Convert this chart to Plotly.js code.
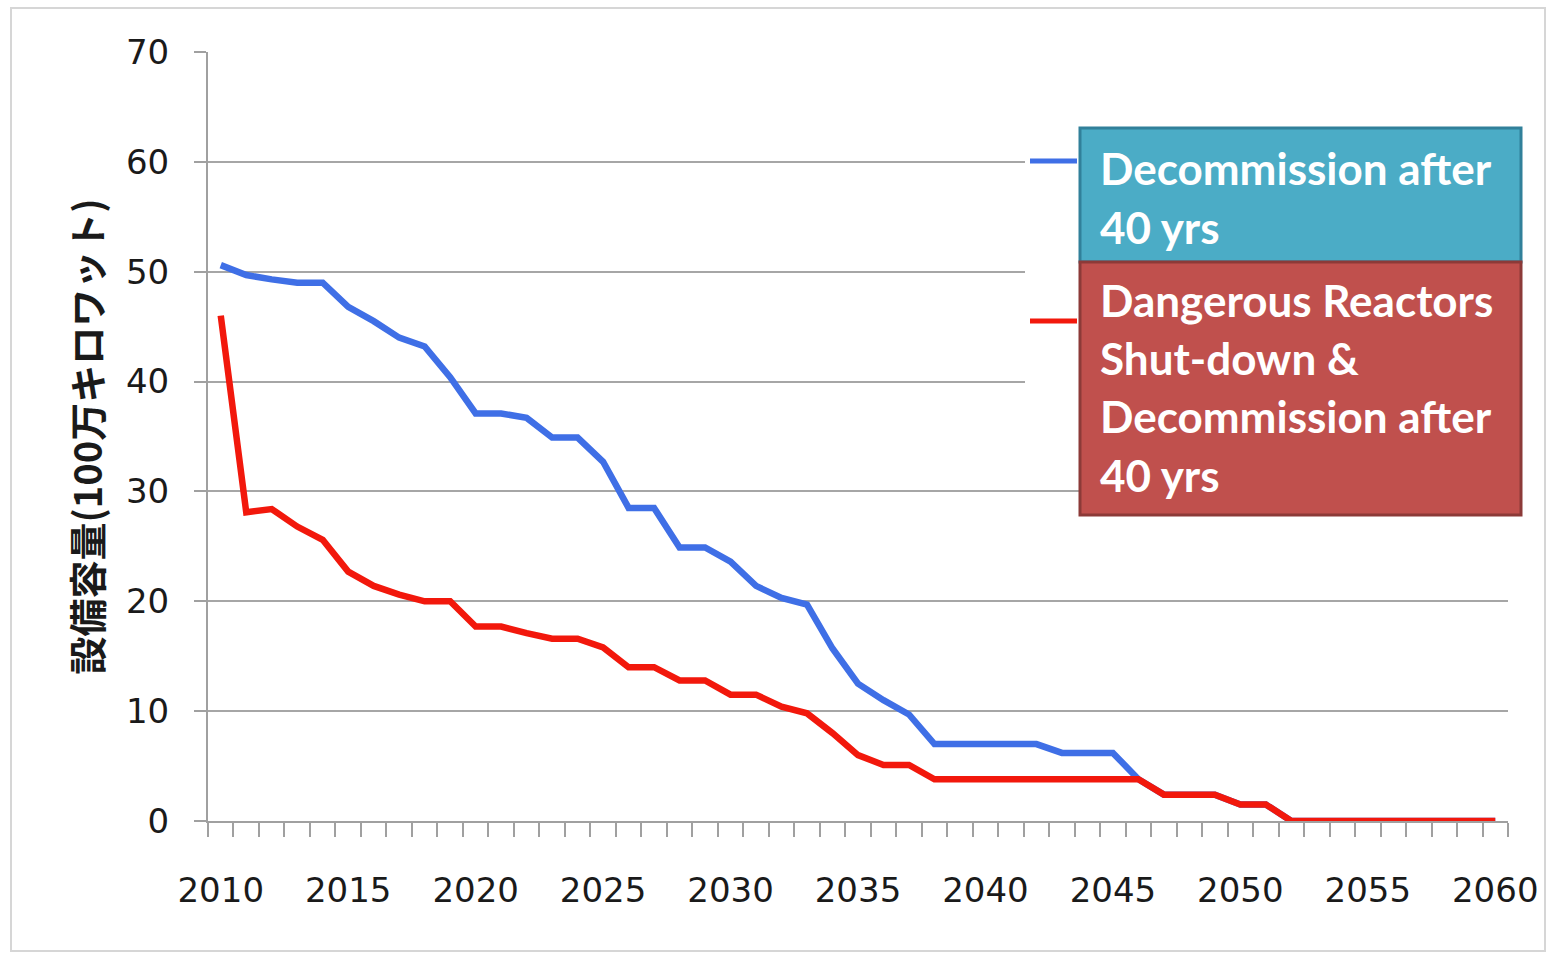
<!DOCTYPE html>
<html>
<head>
<meta charset="utf-8">
<script src="https://cdn.plot.ly/plotly-3.0.1.min.js"></script>
<style>html,body{margin:0;padding:0;background:#fff;}#chart{width:1547px;height:954px;}</style>
</head>
<body>
<div id="chart"></div>
<script>
const years = [2010,2011,2012,2013,2014,2015,2016,2017,2018,2019,
               2020,2021,2022,2023,2024,2025,2026,2027,2028,2029,
               2030,2031,2032,2033,2034,2035,2036,2037,2038,2039,
               2040,2041,2042,2043,2044,2045,2046,2047,2048,2049,
               2050,2051,2052,2053,2054,2055,2056,2057,2058,2059,2060];

const decommission40 = [50.6,49.7,49.3,49.0,49.0,46.8,45.5,44.0,43.2,40.4,
                        37.1,37.1,36.7,34.9,34.9,32.7,28.5,28.5,24.9,24.9,
                        23.6,21.4,20.3,19.7,15.7,12.5,11.0,9.7,7.0,7.0,
                        7.0,7.0,7.0,6.2,6.2,6.2,3.8,2.4,2.4,2.4,
                        1.5,1.5,0,0,0,0,0,0,0,0,0];

const dangerousShutdown = [46.0,28.1,28.4,26.8,25.6,22.7,21.4,20.6,20.0,20.0,
                           17.7,17.7,17.1,16.6,16.6,15.8,14.0,14.0,12.8,12.8,
                           11.5,11.5,10.4,9.8,8.0,6.0,5.1,5.1,3.8,3.8,
                           3.8,3.8,3.8,3.8,3.8,3.8,3.8,2.4,2.4,2.4,
                           1.5,1.5,0,0,0,0,0,0,0,0,0];

const xTickLabels = ['2010','2015','2020','2025','2030','2035','2040','2045','2050','2055','2060'];
const xTickVals = [2010,2015,2020,2025,2030,2035,2040,2045,2050,2055,2060];
const yTitle = '設備容量(100万キロワット)';
const legendBlue = ['Decommission after', '40 yrs'];
const legendRed = ['Dangerous Reactors', 'Shut-down &', 'Decommission after', '40 yrs'];

const blueColor = '#3F6FE6';
const redColor = '#F2180C';

const traces = [
  {x: years, y: decommission40, type: 'scatter', mode: 'lines',
   line: {color: blueColor, width: 6.5}, name: 'Decommission after 40 yrs'},
  {x: years, y: dangerousShutdown, type: 'scatter', mode: 'lines',
   line: {color: redColor, width: 6.5}, name: 'Dangerous Reactors Shut-down & Decommission after 40 yrs'}
];

// plot area: x 208..1508, y 52..821
const L = 208, R = 1508, T = 52, B = 821;
const px = v => (v - L) / (R - L);
const py = v => (B - v) / (B - T);

const shapes = [
  {type:'rect', xref:'paper', yref:'paper', x0:px(11), x1:px(1545), y0:py(951), y1:py(8),
   line:{color:'#d6d6d6', width:2}, fillcolor:'rgba(0,0,0,0)', layer:'below'},
  {type:'rect', xref:'paper', yref:'paper', x0:px(1025), x1:px(1080), y0:py(478), y1:py(150),
   line:{width:0}, fillcolor:'#ffffff'},
  {type:'line', xref:'paper', yref:'paper', x0:px(1030), x1:px(1077), y0:py(161), y1:py(161),
   line:{color:blueColor, width:5}},
  {type:'line', xref:'paper', yref:'paper', x0:px(1030), x1:px(1077), y0:py(321), y1:py(321),
   line:{color:redColor, width:5}},
  {type:'rect', xref:'paper', yref:'paper', x0:px(1080), x1:px(1521), y0:py(262), y1:py(128),
   line:{color:'#31809A', width:3}, fillcolor:'#4BACC6'},
  {type:'rect', xref:'paper', yref:'paper', x0:px(1080), x1:px(1521), y0:py(515), y1:py(262),
   line:{color:'#8C3A38', width:3}, fillcolor:'#C0504D'}
];

const legendFont = {family:'Lato, "Open Sans", sans-serif', size:44, color:'#ffffff'};
const annotations = [];
const blueY = [168, 227];
legendBlue.forEach((t,i) => annotations.push({xref:'paper', yref:'paper', x:px(1098), y:py(blueY[i]),
  xanchor:'left', yanchor:'middle', text:'<b>'+t+'</b>', showarrow:false, font:legendFont}));
const redY = [300, 358, 416, 475];
legendRed.forEach((t,i) => annotations.push({xref:'paper', yref:'paper', x:px(1098), y:py(redY[i]),
  xanchor:'left', yanchor:'middle', text:'<b>'+t+'</b>', showarrow:false, font:legendFont}));

const layout = {
  width: 1547, height: 954,
  margin: {l: L, r: 1547 - R, t: T, b: 954 - B},
  paper_bgcolor: '#ffffff', plot_bgcolor: '#ffffff',
  showlegend: false,
  font: {family: '"DejaVu Sans", sans-serif', size: 34, color: '#1a1a1a'},
  xaxis: {
    range: [2009.5, 2060.5], tickmode: 'array', tickvals: xTickVals, ticktext: xTickLabels,
    ticks: '', showgrid: false, zeroline: false,
    showline: true, linecolor: '#a0a0a0', linewidth: 2,
    ticklabelstandoff: 38,
    minor: {tick0: 2009.5, dtick: 1, ticks: 'outside', ticklen: 14, tickwidth: 2, tickcolor: '#a0a0a0', showgrid: false},
    fixedrange: true
  },
  yaxis: {
    range: [0, 70], dtick: 10, tick0: 0,
    ticks: 'outside', ticklen: 12, tickwidth: 2, tickcolor: '#a0a0a0',
    showgrid: true, gridcolor: '#a6a6a6', gridwidth: 2,
    zeroline: false, showline: true, linecolor: '#a0a0a0', linewidth: 2,
    ticklabelstandoff: 18,
    title: {text: '<b>' + yTitle + '</b>', standoff: 12,
            font: {family: '"Noto Sans CJK JP", sans-serif', size: 38, color: '#1a1a1a'}},
    fixedrange: true
  },
  shapes: shapes,
  annotations: annotations
};

Plotly.newPlot('chart', traces, layout, {displayModeBar: false, staticPlot: true});
</script>
</body>
</html>
